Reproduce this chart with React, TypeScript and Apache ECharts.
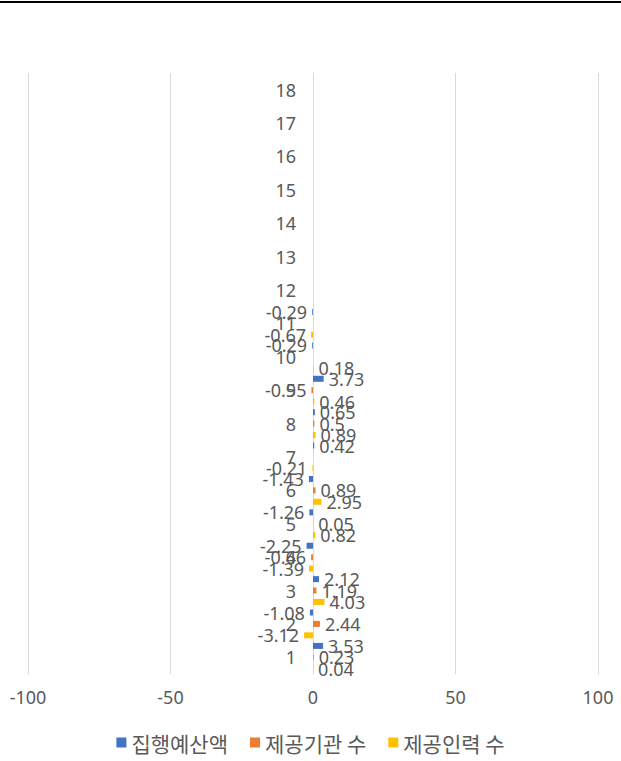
import React, { useEffect, useRef } from "react";
import * as echarts from "echarts";

const categories = ["1", "2", "3", "4", "5", "6", "7", "8", "9", "10", "11", "12", "13", "14", "15", "16", "17", "18"];
const seriesNames = ["집행예산액", "제공기관 수", "제공인력 수"];
const budget = [3.53, -1.08, 2.12, -2.25, -1.26, -1.43, 0.42, 0.65, 3.73, -0.29, -0.29, null, null, null, null, null, null, null];
const institutions = [0.23, 2.44, 1.19, -0.66, 0.05, 0.89, null, 0.5, -0.55, null, null, null, null, null, null, null, null, null];
const staff = [0.04, -3.12, 4.03, -1.39, 0.82, 2.95, -0.21, 0.89, 0.46, 0.18, -0.67, null, null, null, null, null, null, null];
const xTicks = { min: -100, max: 100, interval: 50 };
const colors = ["#4472C4", "#ED7D31", "#FFC000"];

const NUM_FONT = "'Noto Sans', sans-serif";
const KR_FONT = "'Noto Sans CJK KR', 'Noto Sans', sans-serif";

const GRID_LEFT = 28;
const GRID_RIGHT = 23;
const CHART_W = 621;

function toItems(arr: (number | null)[]) {
  return arr.map((v) =>
    v === null
      ? null
      : { value: v, label: { position: v < 0 ? "left" : "right" } }
  );
}

export default function App() {
  const ref = useRef<HTMLDivElement>(null);
  useEffect(() => {
    if (!ref.current) return;
    const chart = echarts.init(ref.current, null, { renderer: "svg" });
    const all = [budget, institutions, staff];
    const plotW = CHART_W - GRID_LEFT - GRID_RIGHT;
    // shift the category axis so it sits at value 0
    const zeroOffset = -plotW * ((0 - xTicks.min) / (xTicks.max - xTicks.min));
    chart.setOption({
      animation: false,
      color: colors,
      graphic: [
        {
          type: "line",
          shape: { x1: 0, y1: 2, x2: 621, y2: 2 },
          style: { stroke: "#000", lineWidth: 2 },
        },
      ],
      grid: {
        left: GRID_LEFT,
        right: GRID_RIGHT,
        top: 73,
        bottom: 87,
        containLabel: false,
        outerBoundsMode: "none",
      },
      legend: {
        data: seriesNames,
        top: 727,
        left: "center",
        icon: "rect",
        itemWidth: 10,
        itemHeight: 10,
        itemGap: 22,
        textStyle: { color: "#595959", fontSize: 21, fontFamily: KR_FONT },
      },
      xAxis: {
        type: "value",
        min: xTicks.min,
        max: xTicks.max,
        interval: xTicks.interval,
        axisLine: { show: false },
        axisTick: { show: false },
        splitLine: { lineStyle: { color: "#D9D9D9", width: 1 } },
        axisLabel: { color: "#595959", fontSize: 18, fontFamily: NUM_FONT, margin: 14 },
      },
      yAxis: {
        type: "category",
        data: categories,
        offset: zeroOffset,
        axisLine: { show: true, onZero: false, lineStyle: { color: "#D9D9D9" } },
        axisTick: { show: false },
        axisLabel: { color: "#595959", fontSize: 18, fontFamily: NUM_FONT, margin: 17 },
      },
      series: all.map((arr, i) => ({
        name: seriesNames[i],
        type: "bar",
        data: toItems(arr),
        barWidth: 6,
        barGap: "90%",
        label: {
          show: true,
          distance: 5,
          color: "#595959",
          fontSize: 18,
          fontFamily: NUM_FONT,
        },
      })),
    });
    return () => chart.dispose();
  }, []);
  return (
    <div
      ref={ref}
      style={{ position: "fixed", left: 0, top: 0, width: 621, height: 761, background: "#fff" }}
    />
  );
}
